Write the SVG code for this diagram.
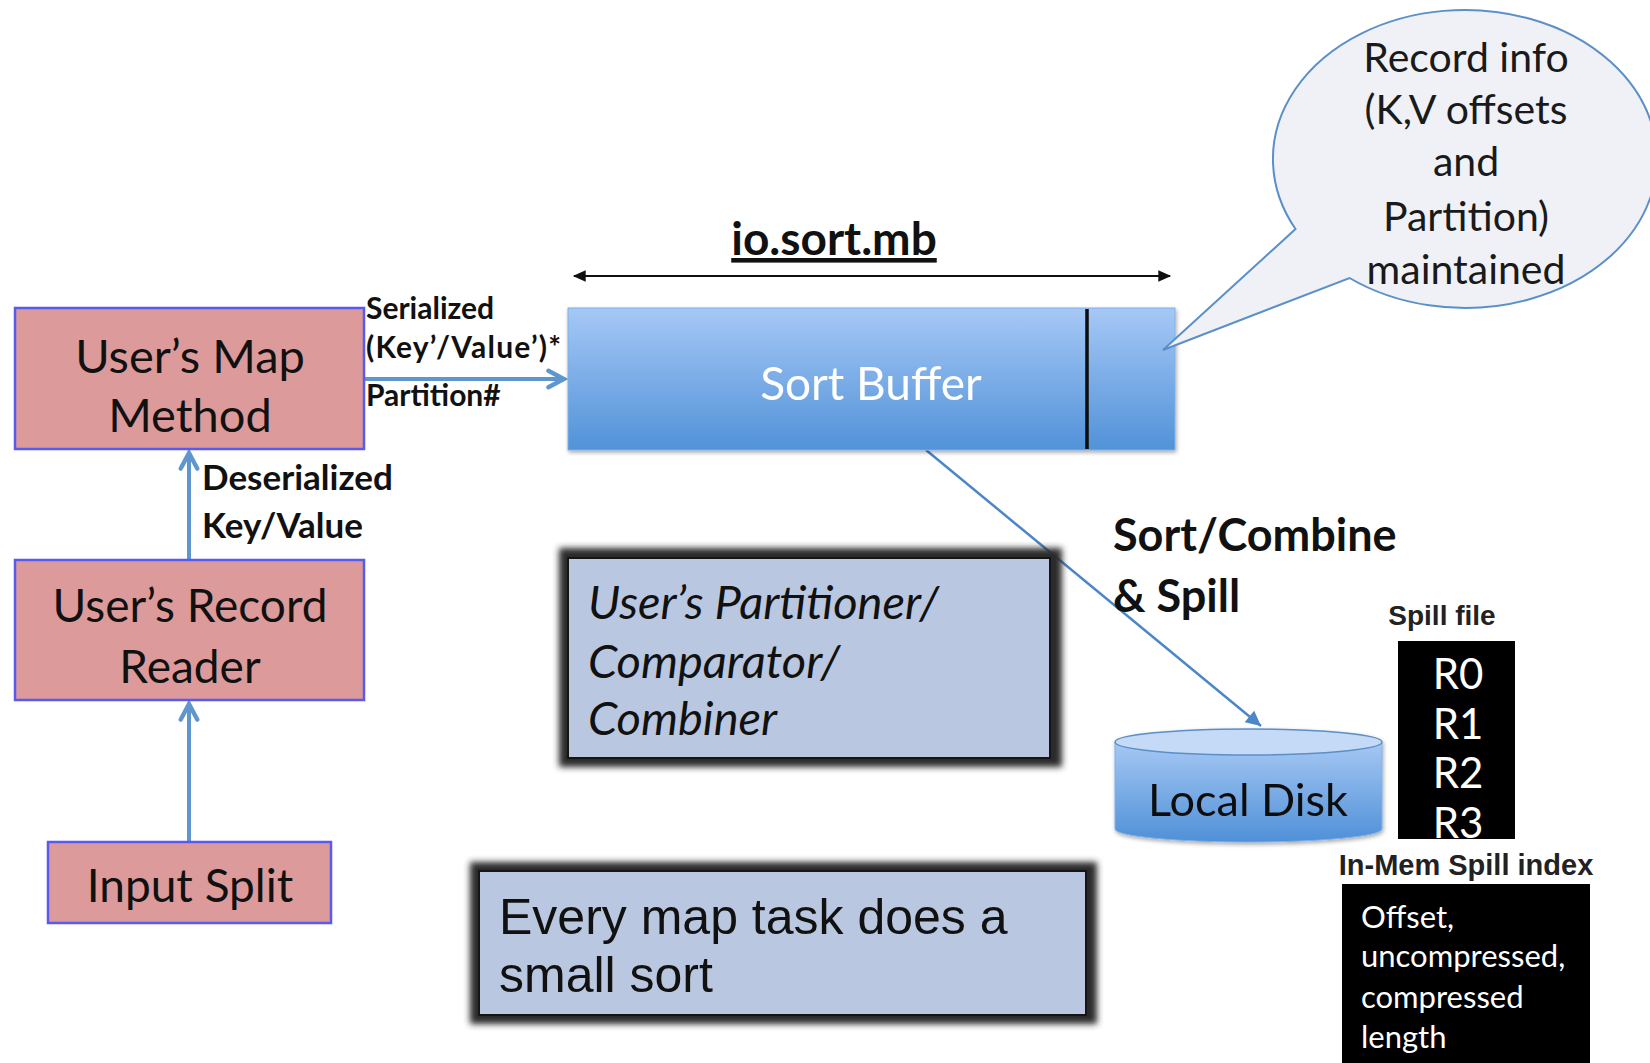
<svg xmlns="http://www.w3.org/2000/svg" width="1650" height="1063" viewBox="0 0 1650 1063">
  <style>
    .cal { font-family: Lato, "Open Sans", sans-serif; }
    .calb { font-family: Lato, "Open Sans", sans-serif; font-weight: bold; }
    .ari { font-family: "Liberation Sans", Arial, sans-serif; }
    .arib { font-family: "Liberation Sans", Arial, sans-serif; font-weight: bold; }
    .pink { fill: #dc9b9a; stroke: #5a5af0; stroke-width: 2.5; }
    .conn { stroke: #5f96cd; stroke-width: 4; fill: none; }
    .frame-fill { fill: #b9c8e0; stroke: #151515; stroke-width: 2; }
    .frame-dark { fill: #2c2c2c; }
  </style>
  <defs>
    <linearGradient id="bufGrad" x1="0" y1="0" x2="0" y2="1">
      <stop offset="0" stop-color="#a6c8f6"/>
      <stop offset="1" stop-color="#5192d8"/>
    </linearGradient>
    <linearGradient id="diskGrad" x1="0" y1="0" x2="0" y2="1">
      <stop offset="0" stop-color="#a6c8f3"/>
      <stop offset="1" stop-color="#4f90d8"/>
    </linearGradient>
    <filter id="soft" x="-10%" y="-10%" width="120%" height="120%">
      <feGaussianBlur stdDeviation="3"/>
    </filter>
    <filter id="shadow" x="-5%" y="-5%" width="110%" height="120%">
      <feGaussianBlur in="SourceAlpha" stdDeviation="2"/>
      <feOffset dx="1" dy="2" result="b"/>
      <feComponentTransfer><feFuncA type="linear" slope="0.35"/></feComponentTransfer>
      <feMerge><feMergeNode/><feMergeNode in="SourceGraphic"/></feMerge>
    </filter>
    <marker id="openHead" viewBox="0 0 12 12" refX="10" refY="6" markerWidth="5.5" markerHeight="5.5" markerUnits="strokeWidth" orient="auto">
      <path d="M1.5,1.5 L10,6 L1.5,10.5" fill="none" stroke="#5f96cd" stroke-width="2.4" stroke-linecap="round"/>
    </marker>
    <marker id="thinHead" viewBox="0 0 12 12" refX="10" refY="6" markerWidth="8" markerHeight="8" markerUnits="strokeWidth" orient="auto">
      <path d="M1,1.5 L10,6 L1,10.5 Z" fill="#4a86c8"/>
    </marker>
    <marker id="blackHead" viewBox="0 0 12 12" refX="10" refY="6" markerWidth="7" markerHeight="7" markerUnits="strokeWidth" orient="auto-start-reverse">
      <path d="M0,1 L11,6 L0,11 Z" fill="#111"/>
    </marker>
  </defs>

  <rect x="0" y="0" width="1650" height="1063" fill="#ffffff"/>

  <!-- connectors -->
  <g id="connectors">
    <line class="conn" x1="364" y1="379" x2="564" y2="379" marker-end="url(#openHead)"/>
    <line class="conn" x1="189" y1="560" x2="189" y2="453" marker-end="url(#openHead)"/>
    <line class="conn" x1="189" y1="842" x2="189" y2="704" marker-end="url(#openHead)"/>
    <line x1="926" y1="450" x2="1261" y2="726" stroke="#4a86c8" stroke-width="2.5" marker-end="url(#thinHead)"/>
    <line x1="574" y1="276" x2="1170" y2="276" stroke="#111" stroke-width="2" marker-start="url(#blackHead)" marker-end="url(#blackHead)"/>
  </g>

  <!-- map side -->
  <g id="map-method">
    <rect class="pink" x="15" y="308" width="349" height="141"/>
    <text class="cal" font-size="47" text-anchor="middle" x="190" y="373" fill="#111">User’s Map</text>
    <text class="cal" font-size="47" text-anchor="middle" x="190" y="432" fill="#111">Method</text>
  </g>
  <g id="record-reader">
    <rect class="pink" x="15" y="560" width="349" height="140"/>
    <text class="cal" font-size="46" text-anchor="middle" x="190" y="622" fill="#111">User’s Record</text>
    <text class="cal" font-size="46" text-anchor="middle" x="190" y="683" fill="#111">Reader</text>
  </g>
  <g id="input-split">
    <rect class="pink" x="48" y="842" width="283" height="81"/>
    <text class="cal" font-size="46" text-anchor="middle" x="190" y="902" fill="#111">Input Split</text>
  </g>

  <g id="serialized-label">
    <text class="calb" font-size="30" x="366" y="319" fill="#111">Serialized</text>
    <text class="calb" font-size="30" x="366" y="358" fill="#111" textLength="195" lengthAdjust="spacing">(Key’/Value’)*</text>
    <text class="calb" font-size="30" x="366" y="406" fill="#111">Partition#</text>
  </g>
  <g id="deserialized-label">
    <text class="calb" font-size="35" x="202" y="490" fill="#111">Deserialized</text>
    <text class="calb" font-size="35" x="202" y="538" fill="#111">Key/Value</text>
  </g>

  <!-- sort buffer -->
  <g id="io-sort-mb">
    <text class="calb" font-size="46" text-anchor="middle" x="834" y="255" fill="#111" text-decoration="underline">io.sort.mb</text>
  </g>
  <g id="sort-buffer" filter="url(#shadow)">
    <rect x="568" y="308" width="607" height="142" fill="url(#bufGrad)" stroke="#7fb0e8" stroke-width="1"/>
    <line x1="1087" y1="309" x2="1087" y2="449" stroke="#0a0a0a" stroke-width="3.5"/>
    <text class="cal" font-size="46" text-anchor="middle" x="871" y="400" fill="#ffffff">Sort Buffer</text>
  </g>

  <!-- record info callout -->
  <g id="record-info">
    <path d="M1295.5 229 A192 149 0 1 1 1349.5 278 L1163 350 Z" fill="#f0f1f6" stroke="#5b8fc8" stroke-width="2"/>
    <text class="cal" font-size="41" text-anchor="middle" x="1466" y="72" fill="#1a1a1a">Record info</text>
    <text class="cal" font-size="41" text-anchor="middle" x="1466" y="124" fill="#1a1a1a">(K,V offsets</text>
    <text class="cal" font-size="41" text-anchor="middle" x="1466" y="176" fill="#1a1a1a">and</text>
    <text class="cal" font-size="41" text-anchor="middle" x="1466" y="231" fill="#1a1a1a">Partition)</text>
    <text class="cal" font-size="41" text-anchor="middle" x="1466" y="284" fill="#1a1a1a">maintained</text>
  </g>

  <!-- user plug-ins -->
  <g id="partitioner">
    <rect class="frame-dark" x="559" y="548" width="503" height="219" filter="url(#soft)"/>
    <rect class="frame-fill" x="568" y="558" width="482" height="200"/>
    <text class="cal" font-size="47" font-style="italic" x="588" y="619" fill="#111">User’s Partitioner/</text>
    <text class="cal" font-size="47" font-style="italic" x="588" y="678" fill="#111">Comparator/</text>
    <text class="cal" font-size="47" font-style="italic" x="588" y="735" fill="#111">Combiner</text>
  </g>
  <g id="small-sort">
    <rect class="frame-dark" x="470" y="862" width="627" height="162" filter="url(#soft)"/>
    <rect class="frame-fill" x="479" y="871" width="607" height="144"/>
    <text class="ari" font-size="50" x="499" y="934" fill="#111">Every map task does a</text>
    <text class="ari" font-size="50" x="499" y="992" fill="#111">small sort</text>
  </g>

  <!-- spill -->
  <g id="spill-label">
    <text class="calb" font-size="45" x="1113" y="551" fill="#111">Sort/Combine</text>
    <text class="calb" font-size="45" x="1113" y="612" fill="#111">&amp; Spill</text>
  </g>
  <g id="local-disk" filter="url(#shadow)">
    <path d="M1115 742 L1115 829 A133 13 0 0 0 1382 829 L1382 742 Z" fill="url(#diskGrad)" stroke="#7fb0e8" stroke-width="1"/>
    <ellipse cx="1248.5" cy="742" rx="133.5" ry="13" fill="#c4daf6" stroke="#5b8fc8" stroke-width="1.5"/>
    <text class="cal" font-size="45" text-anchor="middle" x="1248" y="816" fill="#111">Local Disk</text>
  </g>
  <g id="spill-file">
    <text class="arib" font-size="28" text-anchor="middle" x="1442" y="625" fill="#222">Spill file</text>
    <rect x="1398" y="641" width="117" height="198" fill="#000"/>
    <text class="cal" font-size="42" text-anchor="middle" x="1458" y="689" fill="#fff">R0</text>
    <text class="cal" font-size="42" text-anchor="middle" x="1458" y="739" fill="#fff">R1</text>
    <text class="cal" font-size="42" text-anchor="middle" x="1458" y="788" fill="#fff">R2</text>
    <text class="cal" font-size="42" text-anchor="middle" x="1458" y="838" fill="#fff">R3</text>
  </g>
  <g id="spill-index">
    <text class="arib" font-size="29" text-anchor="middle" x="1466" y="875" fill="#222">In-Mem Spill index</text>
    <rect x="1342" y="884" width="248" height="179" fill="#000"/>
    <text class="cal" font-size="31" x="1361" y="928" fill="#fff">Offset,</text>
    <text class="cal" font-size="31" x="1361" y="967" fill="#fff">uncompressed,</text>
    <text class="cal" font-size="31" x="1361" y="1008" fill="#fff">compressed</text>
    <text class="cal" font-size="31" x="1361" y="1048" fill="#fff">length</text>
  </g>
</svg>
